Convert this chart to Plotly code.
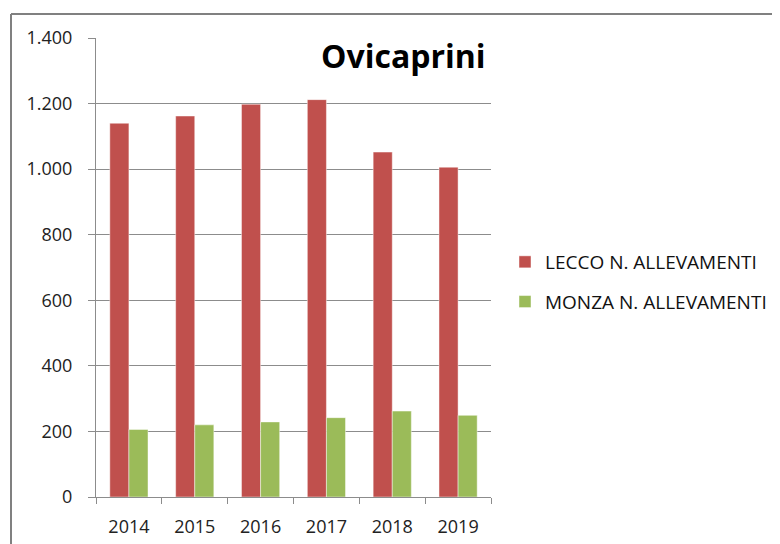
import plotly.graph_objects as go

years = ["2014", "2015", "2016", "2017", "2018", "2019"]
lecco = [1140, 1162, 1198, 1212, 1052, 1006]
monza = [206, 220, 229, 242, 262, 249]
series_names = ["LECCO N. ALLEVAMENTI", "MONZA N. ALLEVAMENTI"]
colors = ["#C0504D", "#9BBB59"]
ytick_vals = [0, 200, 400, 600, 800, 1000, 1200, 1400]
ytick_text = ["0", "200", "400", "600", "800", "1.000", "1.200", "1.400"]

OFF = 8  # page body margin
W, H = 780 - OFF, 544 - OFF
# plot area in screen pixels
PX0, PX1, PY0, PY1 = 96, 491, 38, 497
pw, ph = PX1 - PX0, PY1 - PY0
L, T = PX0 - OFF, PY0 - OFF
R, B = W - L - pw, H - T - ph


def px(x):
    return (x - PX0) / pw


def py(y):
    return (PY1 - y) / ph


fig = go.Figure()
for name, vals, col, grp in zip(series_names, [lecco, monza], colors, ["a", "b"]):
    fig.add_trace(go.Bar(
        x=years, y=vals, name=name, legendgroup=grp,
        marker=dict(color=col, line=dict(color="rgba(255,255,255,0.45)", width=1)),
    ))

fig.update_layout(
    width=W, height=H,
    margin=dict(l=L, r=R, t=T, b=B, autoexpand=False),
    paper_bgcolor="white", plot_bgcolor="white",
    barmode="group", bargap=0.42, bargroupgap=0,
    font=dict(family="Open Sans", size=18, color="#222222"),
    showlegend=True,
    legend=dict(
        x=px(505), y=py(282), xanchor="left", yanchor="middle",
        font=dict(family="Open Sans", size=19, color="#111111"),
        tracegroupgap=12, traceorder="grouped",
        bgcolor="rgba(0,0,0,0)",
    ),
    xaxis=dict(
        type="category", showline=True, linecolor="#8c8c8c", linewidth=1,
        ticks="outside", tickson="boundaries", ticklen=6, tickcolor="#8c8c8c",
        showgrid=False, tickfont=dict(size=18, color="#222222"),
        ticklabelstandoff=13,
    ),
    yaxis=dict(
        range=[0, 1400], tickvals=ytick_vals, ticktext=ytick_text,
        showline=True, linecolor="#8c8c8c", linewidth=1,
        ticks="outside", ticklen=7, tickcolor="#8c8c8c",
        showgrid=True, gridcolor="#8c8c8c", gridwidth=1,
        tickfont=dict(size=18, color="#222222"), zeroline=False,
        ticklabelstandoff=12,
    ),
    annotations=[dict(
        text="<b>Ovicaprini</b>", xref="paper", yref="paper",
        x=px(488), y=py(56), xanchor="right", yanchor="middle",
        showarrow=False, font=dict(family="Open Sans", size=32, color="#000000"),
    )],
    shapes=[
        dict(type="line", xref="paper", yref="paper",
             x0=px(11), x1=px(800), y0=py(14), y1=py(14),
             line=dict(color="#808080", width=2)),
        dict(type="line", xref="paper", yref="paper",
             x0=px(11), x1=px(11), y0=py(14), y1=py(570),
             line=dict(color="#808080", width=2)),
    ],
)

fig.write_html("out.html")
